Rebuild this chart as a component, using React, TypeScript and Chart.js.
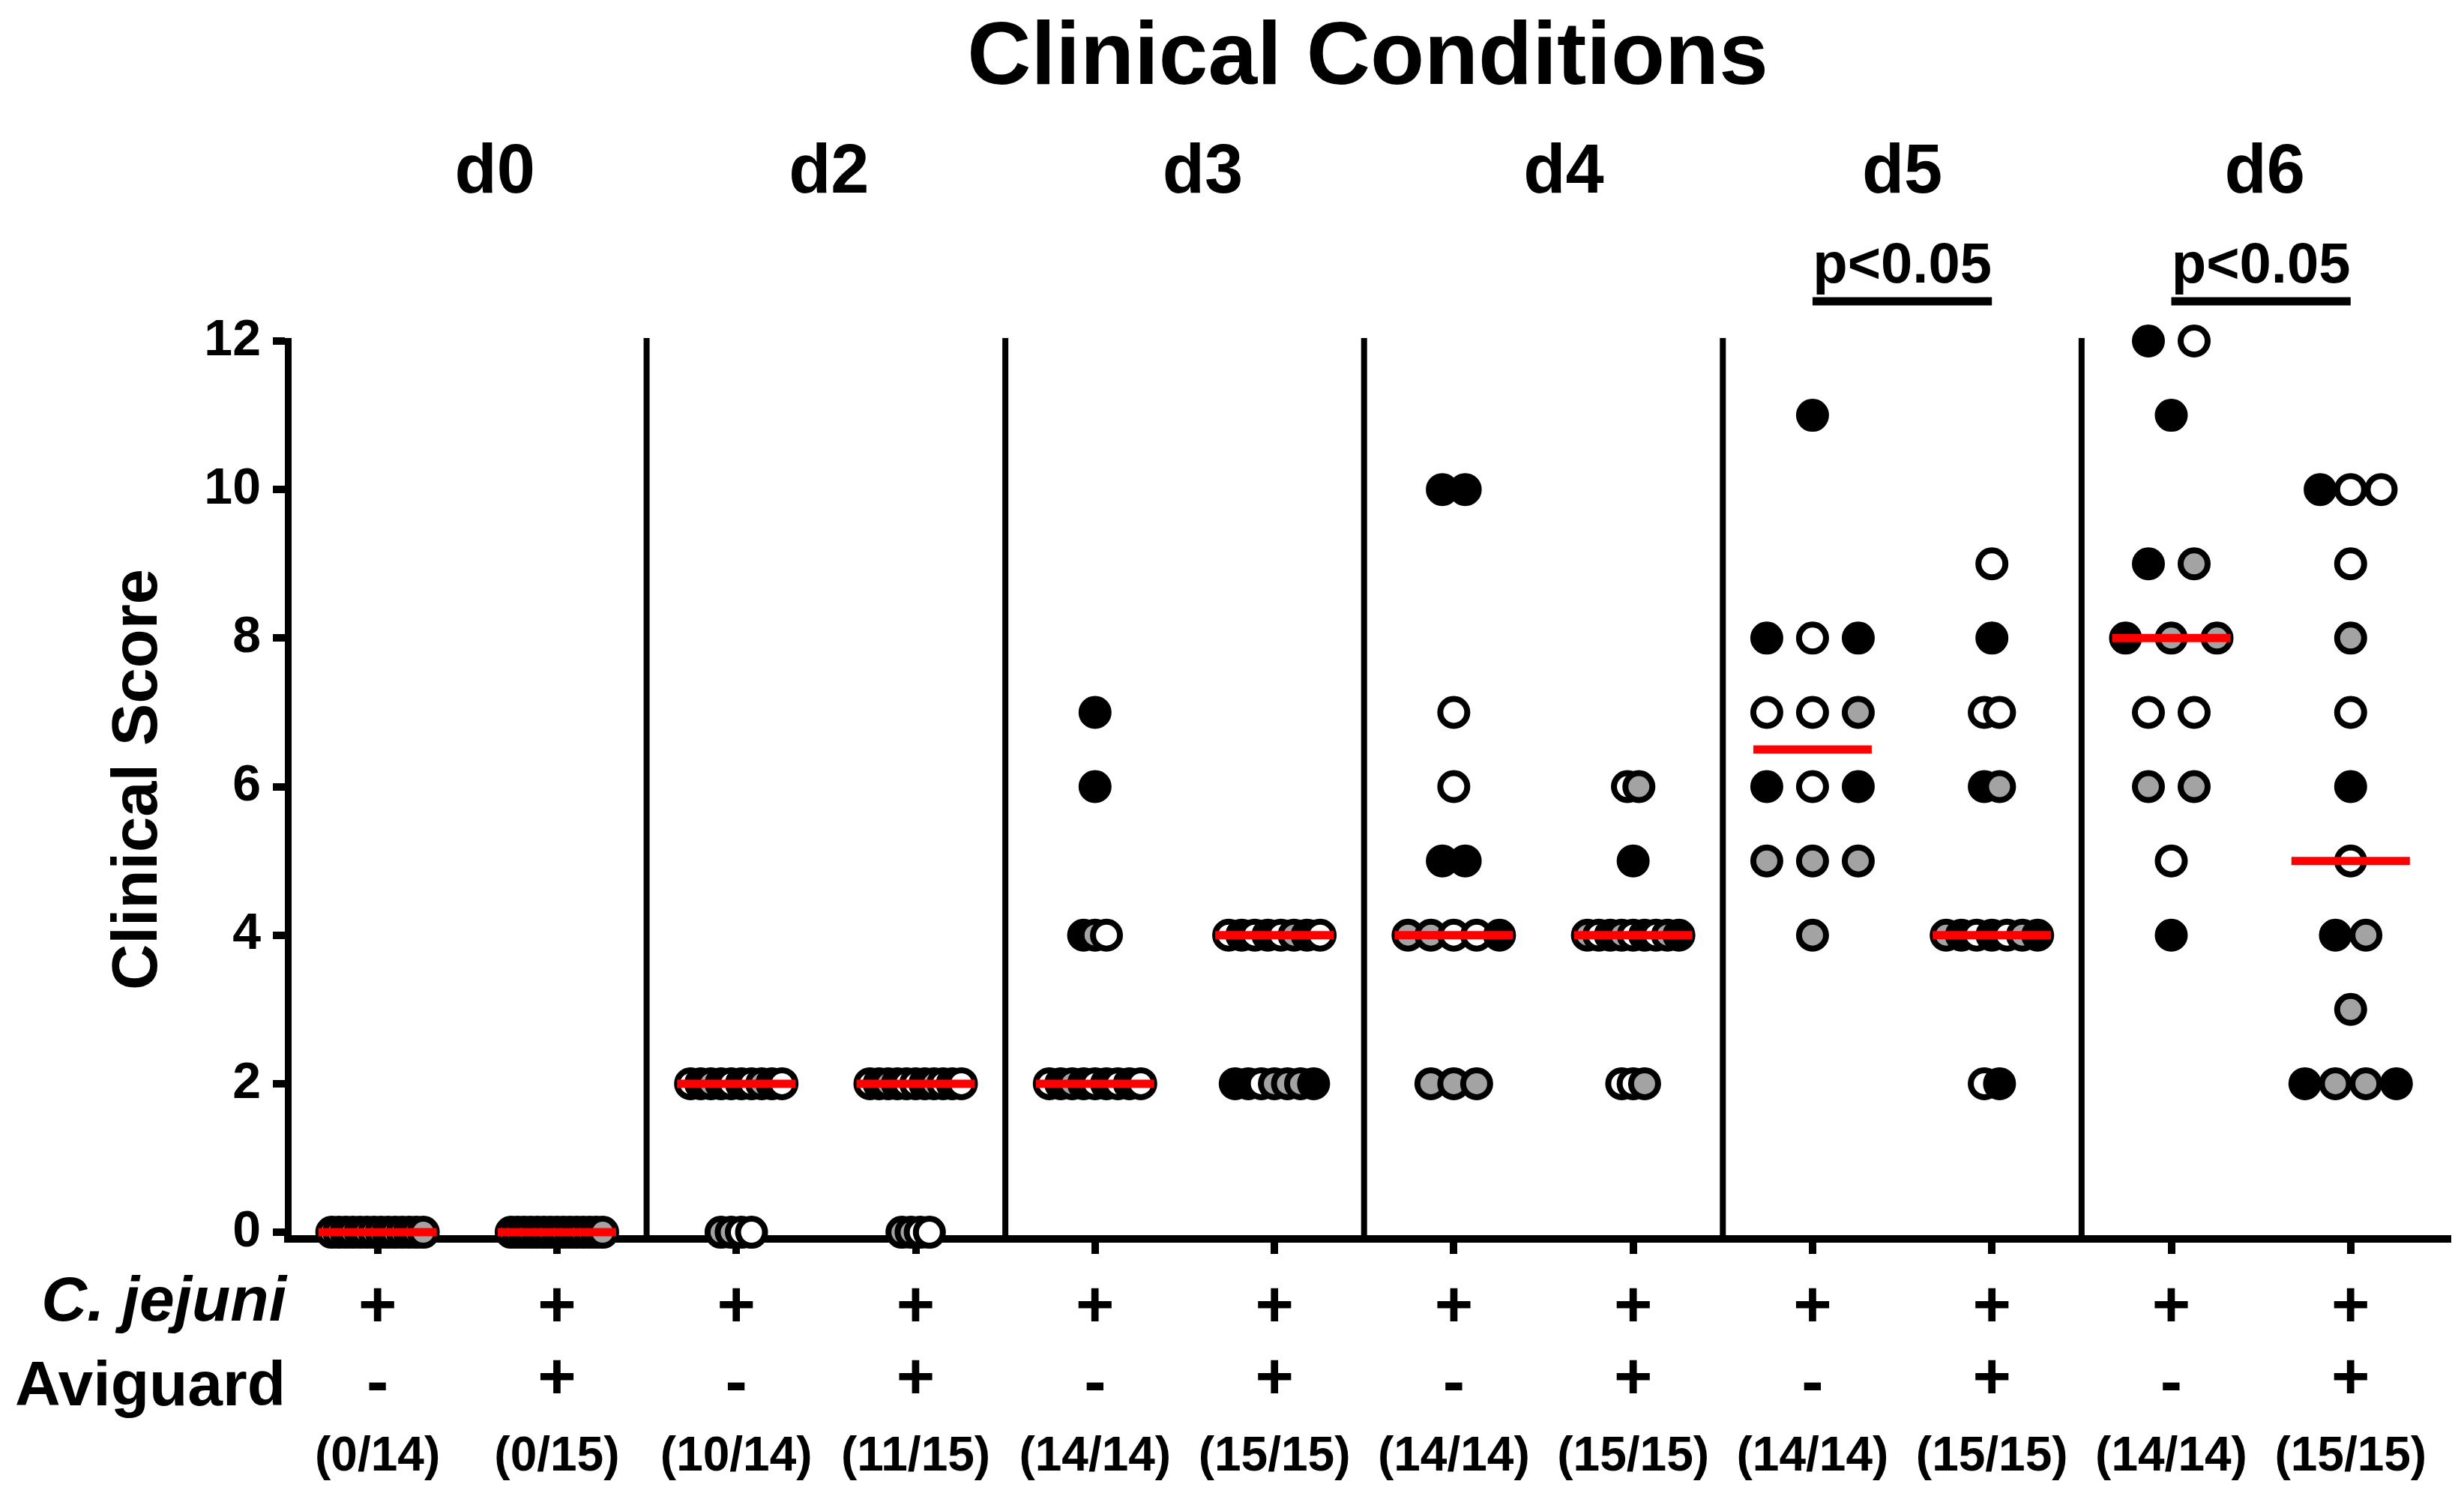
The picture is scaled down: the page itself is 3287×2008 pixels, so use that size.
import React, { useEffect, useRef } from 'react';
import { Chart, registerables } from 'chart.js';

Chart.register(...registerables);

// ---------- data ----------
const chartTitle = 'Clinical Conditions';
const yAxisTitle = 'Clinical Score';
const dayLabels = ['d0', 'd2', 'd3', 'd4', 'd5', 'd6'];
const groupNames = [
  'd0 -', 'd0 +', 'd2 -', 'd2 +', 'd3 -', 'd3 +',
  'd4 -', 'd4 +', 'd5 -', 'd5 +', 'd6 -', 'd6 +',
];
const cJejuniRow = ['+', '+', '+', '+', '+', '+', '+', '+', '+', '+', '+', '+'];
const aviguardRow = ['-', '+', '-', '+', '-', '+', '-', '+', '-', '+', '-', '+'];
const fractionLabels = [
  '(0/14)', '(0/15)', '(10/14)', '(11/15)', '(14/14)', '(15/15)',
  '(14/14)', '(15/15)', '(14/14)', '(15/15)', '(14/14)', '(15/15)',
];
const yTickValues = [0, 2, 4, 6, 8, 10, 12];

// W = open (white), G = grey, B = black
const d0Minus = [0, 0, 0, 0, 0, 0, 0, 0, 0, 0, 0, 0, 0, 0];
const d0MinusShade = ['W', 'W', 'B', 'W', 'B', 'W', 'W', 'G', 'B', 'W', 'G', 'B', 'G', 'G'];
const d0Plus = [0, 0, 0, 0, 0, 0, 0, 0, 0, 0, 0, 0, 0, 0, 0];
const d0PlusShade = ['W', 'W', 'B', 'W', 'B', 'G', 'W', 'B', 'W', 'G', 'B', 'W', 'W', 'G', 'G'];

const d2Minus = [2, 2, 2, 2, 2, 2, 2, 2, 2, 2, 0, 0, 0, 0];
const d2MinusShade = ['W', 'B', 'G', 'B', 'W', 'B', 'W', 'G', 'B', 'W', 'G', 'G', 'W', 'W'];
const d2Plus = [2, 2, 2, 2, 2, 2, 2, 2, 2, 2, 2, 0, 0, 0, 0];
const d2PlusShade = ['W', 'B', 'G', 'B', 'W', 'W', 'B', 'G', 'W', 'B', 'W', 'G', 'G', 'W', 'W'];

const d3Minus = [7, 6, 4, 4, 4, 2, 2, 2, 2, 2, 2, 2, 2, 2];
const d3MinusShade = ['B', 'B', 'B', 'G', 'W', 'W', 'B', 'G', 'B', 'W', 'B', 'W', 'B', 'W'];
const d3Plus = [4, 4, 4, 4, 4, 4, 4, 4, 2, 2, 2, 2, 2, 2, 2];
const d3PlusShade = ['W', 'B', 'W', 'B', 'W', 'G', 'B', 'W', 'B', 'B', 'W', 'G', 'G', 'G', 'B'];

const d4Minus = [10, 10, 7, 6, 5, 5, 4, 4, 4, 4, 4, 2, 2, 2];
const d4MinusShade = ['B', 'B', 'W', 'W', 'B', 'B', 'G', 'G', 'W', 'W', 'B', 'G', 'G', 'G'];
const d4Plus = [6, 6, 5, 4, 4, 4, 4, 4, 4, 4, 4, 4, 2, 2, 2];
const d4PlusShade = ['W', 'G', 'B', 'G', 'W', 'B', 'G', 'W', 'B', 'W', 'G', 'B', 'W', 'W', 'G'];

const d5Minus = [11, 8, 8, 8, 7, 7, 7, 6, 6, 6, 5, 5, 5, 4];
const d5MinusShade = ['B', 'B', 'W', 'B', 'W', 'W', 'G', 'B', 'W', 'B', 'G', 'G', 'G', 'G'];
const d5Plus = [9, 8, 7, 7, 6, 6, 4, 4, 4, 4, 4, 4, 4, 2, 2];
const d5PlusShade = ['W', 'B', 'W', 'W', 'B', 'G', 'G', 'B', 'W', 'B', 'W', 'G', 'B', 'W', 'B'];

const d6Minus = [12, 12, 11, 9, 9, 8, 8, 8, 7, 7, 6, 6, 5, 4];
const d6MinusShade = ['B', 'W', 'B', 'B', 'G', 'B', 'G', 'G', 'W', 'W', 'G', 'G', 'W', 'B'];
const d6Plus = [10, 10, 10, 9, 8, 7, 6, 5, 4, 4, 3, 2, 2, 2, 2];
const d6PlusShade = ['B', 'W', 'W', 'W', 'G', 'W', 'B', 'W', 'B', 'G', 'G', 'B', 'G', 'G', 'B'];

const significance = [
  { from: 8, to: 9, label: 'p<0.05' },
  { from: 10, to: 11, label: 'p<0.05' },
];

// ---------- styles / layout ----------
const FONT = "'Liberation Sans', Arial, Helvetica, sans-serif";
const SHADE_COLORS: Record<string, string> = { W: '#ffffff', G: '#a3a3a3', B: '#000000' };
const SWARM_WIDTH = 0.51; // category units for the widest row
const DAY_LABEL_NUDGE_PX = [37, 4, 24, 27, 0, 5]; // small horizontal offsets of the day headers
const W = 3287;
const H = 2008;

const groupScores = [d0Minus, d0Plus, d2Minus, d2Plus, d3Minus, d3Plus, d4Minus, d4Plus, d5Minus, d5Plus, d6Minus, d6Plus];
const groupShades = [
  d0MinusShade, d0PlusShade, d2MinusShade, d2PlusShade, d3MinusShade, d3PlusShade,
  d4MinusShade, d4PlusShade, d5MinusShade, d5PlusShade, d6MinusShade, d6PlusShade,
];

function median(values: number[]): number {
  const s = [...values].sort((a, b) => a - b);
  const m = Math.floor(s.length / 2);
  return s.length % 2 ? s[m] : (s[m - 1] + s[m]) / 2;
}

// column-scatter layout: points sharing a score are spread symmetrically
function swarm(scores: number[], center: number) {
  const counts: Record<number, number> = {};
  scores.forEach((v) => { counts[v] = (counts[v] || 0) + 1; });
  const maxCount = Math.max(...Object.values(counts));
  const step = maxCount > 1 ? SWARM_WIDTH / (maxCount - 1) : 0;
  const seen: Record<number, number> = {};
  return scores.map((v) => {
    const k = counts[v];
    const j = seen[v] || 0;
    seen[v] = j + 1;
    return { x: center + (j - (k - 1) / 2) * step, y: v };
  });
}

const decorPlugin = {
  id: 'decor',
  beforeDatasetsDraw(chart: any) {
    const { ctx, chartArea } = chart;
    const xs = chart.scales.x;
    const ys = chart.scales.y;
    ctx.save();
    ctx.strokeStyle = '#000';
    ctx.lineWidth = 8;
    for (let d = 0; d < dayLabels.length - 1; d++) {
      const px = xs.getPixelForValue(2 * d + 1.5);
      ctx.beginPath();
      ctx.moveTo(px, ys.getPixelForValue(12) - 4);
      ctx.lineTo(px, chartArea.bottom);
      ctx.stroke();
    }
    ctx.restore();
  },
  afterDraw(chart: any) {
    const { ctx, chartArea } = chart;
    const xs = chart.scales.x;
    ctx.save();
    ctx.fillStyle = '#000';
    ctx.strokeStyle = '#000';

    // title
    ctx.textAlign = 'center';
    ctx.textBaseline = 'alphabetic';
    ctx.font = `bold 118px ${FONT}`;
    ctx.fillText(chartTitle, (chartArea.left + chartArea.right) / 2, 112);

    // day labels
    ctx.font = `bold 92px ${FONT}`;
    dayLabels.forEach((lab, d) => {
      ctx.fillText(lab, xs.getPixelForValue(2 * d + 0.5) + DAY_LABEL_NUDGE_PX[d], 257);
    });

    // significance bars
    significance.forEach((s) => {
      const x1 = xs.getPixelForValue(s.from);
      const x2 = xs.getPixelForValue(s.to);
      ctx.font = `bold 76px ${FONT}`;
      ctx.fillText(s.label, (x1 + x2) / 2, 377);
      ctx.lineWidth = 11;
      ctx.beginPath();
      ctx.moveTo(x1, 402);
      ctx.lineTo(x2, 402);
      ctx.stroke();
    });

    // y axis title
    ctx.save();
    ctx.translate(209, 1040);
    ctx.rotate(-Math.PI / 2);
    ctx.font = `bold 85px ${FONT}`;
    ctx.textAlign = 'center';
    ctx.fillText(yAxisTitle, 0, 0);
    ctx.restore();

    // row labels
    ctx.textAlign = 'right';
    ctx.font = `italic bold 84px ${FONT}`;
    ctx.fillText('C. jejuni', 382, 1762);
    ctx.font = `bold 84px ${FONT}`;
    ctx.fillText('Aviguard', 381, 1875);

    // per-group rows
    ctx.textAlign = 'center';
    groupNames.forEach((_, i) => {
      const px = xs.getPixelForValue(i);
      ctx.font = `bold 88px ${FONT}`;
      ctx.fillText(cJejuniRow[i], px, 1770);
      ctx.fillText(aviguardRow[i], px, aviguardRow[i] === '+' ? 1866 : 1872);
      ctx.font = `bold 64px ${FONT}`;
      ctx.fillText(fractionLabels[i], px, 1962);
    });
    ctx.restore();
  },
};

export default function App() {
  const ref = useRef<HTMLCanvasElement>(null);

  useEffect(() => {
    document.body.style.margin = '0';
    const pointSets = groupScores.map((scores, i) => ({
      type: 'scatter' as const,
      label: groupNames[i],
      data: swarm(scores, i),
      pointBackgroundColor: groupShades[i].map((s) => SHADE_COLORS[s]),
      pointBorderColor: '#000',
      pointBorderWidth: 8,
      pointRadius: 18,
      pointHoverRadius: 18,
      showLine: false,
      clip: false as any,
      order: 1,
    }));
    const medianSet = {
      type: 'scatter' as const,
      label: 'median',
      data: groupScores.map((scores, i) => ({ x: i, y: median(scores) })),
      pointStyle: 'line' as const,
      pointRadius: 79,
      pointHoverRadius: 79,
      pointBorderWidth: 11,
      pointBorderColor: '#ff0000',
      showLine: false,
      clip: false as any,
      order: 0,
    };

    const chart = new Chart(ref.current as HTMLCanvasElement, {
      type: 'scatter',
      data: { datasets: [medianSet, ...pointSets] as any },
      options: {
        responsive: false,
        animation: false,
        events: [],
        layout: { autoPadding: false, padding: { left: 0, top: 455, right: W - 3265, bottom: 0 } },
        plugins: { legend: { display: false }, tooltip: { enabled: false } },
        scales: {
          x: {
            type: 'linear',
            min: -0.5,
            max: 11.54,
            afterBuildTicks: (s: any) => { s.ticks = groupNames.map((_, i) => ({ value: i })); },
            afterFit: (s: any) => { s.height = H - 1653; },
            ticks: { display: false },
            grid: {
              display: true, drawOnChartArea: false, drawTicks: true,
              tickLength: 20, tickWidth: 10, lineWidth: 10, color: '#000',
            },
            border: { display: true, width: 10, color: '#000' },
          },
          y: {
            type: 'linear',
            min: -0.09,
            max: 12,
            afterBuildTicks: (s: any) => { s.ticks = yTickValues.map((v) => ({ value: v })); },
            afterFit: (s: any) => { s.width = 384; },
            ticks: { font: { family: FONT, weight: 'bold', size: 68 }, color: '#000', padding: 16 },
            grid: {
              display: true, drawOnChartArea: false, drawTicks: true,
              tickLength: 20, tickWidth: 10, lineWidth: 10, color: '#000',
            },
            border: { display: true, width: 9, color: '#000' },
          },
        },
      },
      plugins: [decorPlugin],
    } as any);
    return () => chart.destroy();
  }, []);

  return (
    <div style={{ position: 'fixed', left: 0, top: 0, width: `${W}px`, height: `${H}px`, background: '#fff' }}>
      <canvas ref={ref} width={W} height={H} style={{ width: `${W}px`, height: `${H}px`, display: 'block' }} />
    </div>
  );
}
